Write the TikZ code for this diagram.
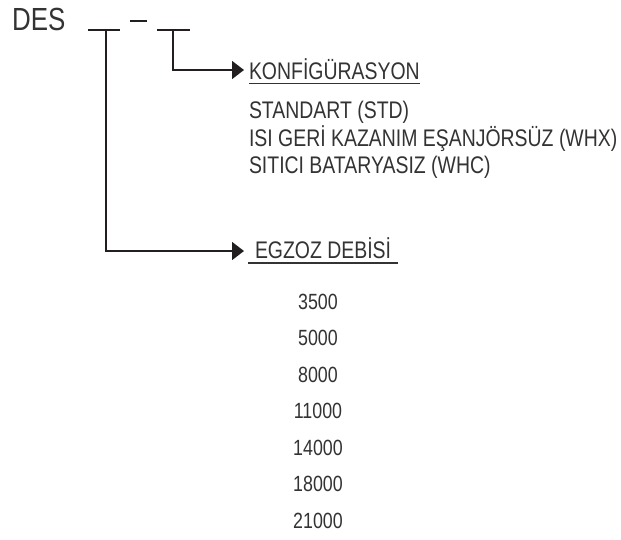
\documentclass[tikz,border=0pt]{standalone}
\usepackage{fontspec}
\setmainfont{Liberation Sans}[FakeStretch=0.81]
\usetikzlibrary{arrows.meta}
\definecolor{txt}{HTML}{333333}
\definecolor{ln}{HTML}{231F20}
\begin{document}
\begin{tikzpicture}[x=1pt,y=1pt,
  lbl/.style={inner sep=0pt,outer sep=0pt,anchor=base west,text=txt,font=\fontsize{24}{26}\selectfont},
  num/.style={inner sep=0pt,outer sep=0pt,anchor=base,text=txt,font=\fontsize{22}{24}\selectfont},
  wire/.style={draw=ln,line width=1.5pt},
  conn/.style={wire,-{Triangle[length=12pt,width=18pt]}},
  uline/.style={draw=txt,line width=1.2pt}]
\useasboundingbox (0,0) rectangle (621,-539);
\node[inner sep=0pt,anchor=base west,text=txt,font=\fontsize{32}{34}\selectfont] (des) at (12,-30) {DES};
% blanks
\coordinate (b1l) at (88,-30); \coordinate (b1r) at (120,-30);
\coordinate (d1l) at (130,-21); \coordinate (d1r) at (147,-21);
\coordinate (b2l) at (157,-30); \coordinate (b2r) at (190,-30);
\coordinate (s1) at (106,-30); \coordinate (s2) at (173,-30);
\draw[wire] (b1l) -- (b1r);
\draw[wire] (d1l) -- (d1r);
\draw[wire] (b2l) -- (b2r);
% headings
\node[lbl] (konf) at (249,-79) {KONFİGÜRASYON};
\node[lbl] (egz) at (255,-258) {EGZOZ DEBİSİ};
\coordinate (a1) at (244,-70);
\coordinate (a2) at (244,-251);
\draw[conn] (s2) |- (a1);
\draw[conn] (s1) |- (a2);
\draw[uline] ([yshift=-4.5pt]konf.base west) -- ([yshift=-4.5pt]konf.base east);
\draw[uline] ([xshift=-7pt,yshift=-5pt]egz.base west) -- ([xshift=7pt,yshift=-5pt]egz.base east);
% options
\node[lbl] (std) at (249,-118) {STANDART (STD)};
\node[lbl] (whx) at (249,-146) {ISI GERİ KAZANIM EŞANJÖRSÜZ (WHX)};
\node[lbl] (whc) at (249,-173) {SITICI BATARYASIZ (WHC)};
% numbers
\node[num] (n1) at (318,-309) {3500};
\node[num] (n2) at (318,-345.5) {5000};
\node[num] (n3) at (318,-382) {8000};
\node[num] (n4) at (318,-418.5) {11000};
\node[num] (n5) at (318,-455) {14000};
\node[num] (n6) at (318,-491.5) {18000};
\node[num] (n7) at (318,-528) {21000};
\end{tikzpicture}
\end{document}
